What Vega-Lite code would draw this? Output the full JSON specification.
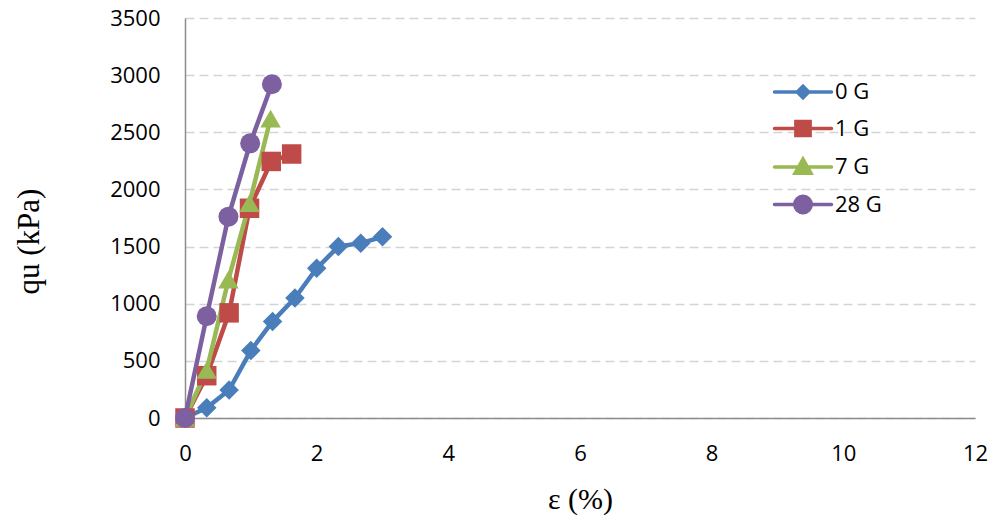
{
  "$schema": "https://vega.github.io/schema/vega-lite/v6.json",
  "autosize": "none",
  "width": 790,
  "height": 400,
  "padding": {"left": 185, "top": 18, "right": 23, "bottom": 105},
  "background": "white",
  "view": {"stroke": null},
  "config": {"view": {"stroke": null}},
  "data": {"values": [
    {"s": "0 G", "x": 0, "y": 0},
    {"s": "0 G", "x": 0.33, "y": 90},
    {"s": "0 G", "x": 0.67, "y": 245},
    {"s": "0 G", "x": 1.0, "y": 590},
    {"s": "0 G", "x": 1.33, "y": 845},
    {"s": "0 G", "x": 1.67, "y": 1050},
    {"s": "0 G", "x": 2.0, "y": 1310},
    {"s": "0 G", "x": 2.33, "y": 1500},
    {"s": "0 G", "x": 2.67, "y": 1530},
    {"s": "0 G", "x": 3.0, "y": 1585},
    {"s": "1 G", "x": 0, "y": 0},
    {"s": "1 G", "x": 0.33, "y": 370},
    {"s": "1 G", "x": 0.67, "y": 920},
    {"s": "1 G", "x": 0.98, "y": 1835},
    {"s": "1 G", "x": 1.31, "y": 2245},
    {"s": "1 G", "x": 1.62, "y": 2310},
    {"s": "7 G", "x": 0, "y": 0},
    {"s": "7 G", "x": 0.33, "y": 420},
    {"s": "7 G", "x": 0.66, "y": 1210},
    {"s": "7 G", "x": 0.98, "y": 1880},
    {"s": "7 G", "x": 1.3, "y": 2620},
    {"s": "28 G", "x": 0, "y": 0},
    {"s": "28 G", "x": 0.33, "y": 890},
    {"s": "28 G", "x": 0.66, "y": 1762},
    {"s": "28 G", "x": 0.99, "y": 2403},
    {"s": "28 G", "x": 1.32, "y": 2920}
  ]},
  "encoding": {
    "x": {"field": "x", "type": "quantitative",
      "scale": {"domain": [0, 12], "nice": false, "zero": true},
      "axis": {"values": [0, 2, 4, 6, 8, 10, 12], "title": "ε  (%)", "grid": false, "ticks": false, "labelFlush": false,
        "domainColor": "#8c8c8c", "domainWidth": 1.5,
        "labelFont": "Open Sans", "labelFontSize": 22, "labelColor": "#000", "labelPadding": 25,
        "titleFont": "Liberation Serif", "titleFontSize": 30, "titleFontWeight": "normal", "titleColor": "#000",
        "titleX": 395, "titleY": 81, "titleBaseline": "middle", "titleAlign": "center"}},
    "y": {"field": "y", "type": "quantitative",
      "scale": {"domain": [0, 3500], "nice": false},
      "axis": {"values": [0, 500, 1000, 1500, 2000, 2500, 3000, 3500], "format": "d", "title": "qu (kPa)", "ticks": false, "labelFlush": false,
        "grid": true, "gridDash": [9, 5], "gridColor": "#d4d4d4", "gridWidth": 1.5,
        "domainColor": "#8c8c8c", "domainWidth": 1.5,
        "labelFont": "Open Sans", "labelFontSize": 22, "labelColor": "#000", "labelPadding": 25,
        "titleFont": "Liberation Serif", "titleFontSize": 31, "titleFontWeight": "normal", "titleColor": "#000",
        "titleX": -156, "titleY": 223, "titleBaseline": "middle", "titleAlign": "center", "titleAngle": -90}},
    "color": {"field": "s", "type": "nominal",
      "scale": {"domain": ["0 G", "1 G", "7 G", "28 G"], "range": ["#4A7EBB", "#BE4B48", "#98B954", "#7D60A0"]},
      "legend": null}
  },
  "layer": [
    {"mark": {"type": "line", "strokeWidth": 4.5, "strokeCap": "round", "strokeJoin": "round"},
      "encoding": {"color": {"field": "s", "type": "nominal",
        "legend": {"title": null, "orient": "none", "legendX": 602, "legendY": 58,
          "labelFont": "Open Sans", "labelFontSize": 22, "labelColor": "#000", "labelOffset": 16,
          "symbolSize": 812, "symbolStrokeWidth": 3.5, "rowPadding": 7.5,
          "encode": {"symbols": {"update": {
            "shape": {"signal": "datum.value === '0 G' ? 'M-2,0H2M0,-0.4L0.4,0L0,0.4L-0.4,0Z' : datum.value === '1 G' ? 'M-2,0H2M-0.5,-0.5H0.5V0.5H-0.5Z' : datum.value === '7 G' ? 'M-2,0H2M0,-0.56L0.56,0.44H-0.56Z' : 'M-2,0H2M-0.58,0A0.58,0.58 0 1,0 0.58,0A0.58,0.58 0 1,0 -0.58,0Z'"},
            "fill": {"scale": "color", "field": "value"},
            "stroke": {"scale": "color", "field": "value"},
            "strokeWidth": {"value": 3.5},
            "strokeCap": {"value": "round"},
            "opacity": {"value": 1}
          }}}}}}},
    {"transform": [{"filter": "datum.s === '0 G'"}],
      "mark": {"type": "point", "filled": true, "opacity": 1, "shape": "diamond", "size": 380}},
    {"transform": [{"filter": "datum.s === '1 G'"}],
      "mark": {"type": "point", "filled": true, "opacity": 1, "shape": "square", "size": 380}},
    {"transform": [{"filter": "datum.s === '7 G'"}],
      "mark": {"type": "point", "filled": true, "opacity": 1, "shape": "triangle-up", "size": 420}},
    {"transform": [{"filter": "datum.s === '28 G'"}],
      "mark": {"type": "point", "filled": true, "opacity": 1, "shape": "circle", "size": 400}}
  ]
}
